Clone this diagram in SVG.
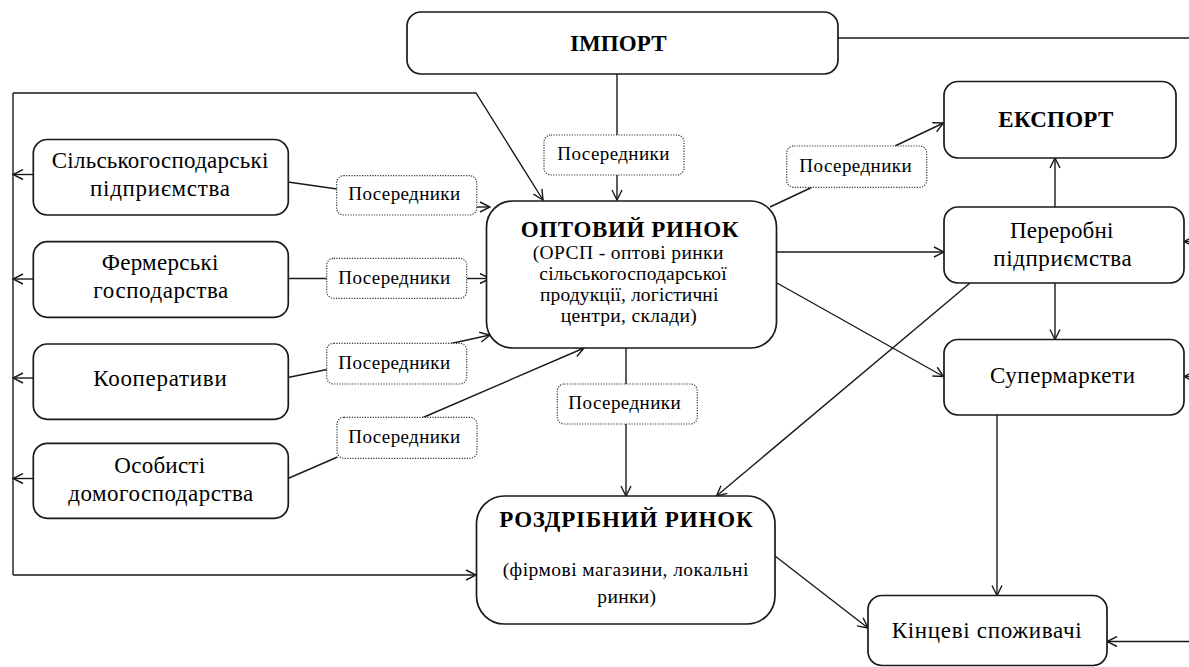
<svg xmlns="http://www.w3.org/2000/svg" width="1189" height="667" viewBox="0 0 1189 667">
<defs>
<style>
.box{fill:#fff;stroke:#1a1a1a;stroke-width:1.7}
.mid{fill:#fff;stroke:#333;stroke-width:1.2;stroke-dasharray:1.2 1.4}
.ln{fill:none;stroke:#1a1a1a;stroke-width:1.4}
.ar{marker-end:url(#arr)}
text{fill:#000;text-anchor:middle}
.t{font-size:23px}
.s{font-size:19.5px}
.m{font-size:19px}
.b{font-size:23px;font-weight:bold}
</style>
<marker id="arr" viewBox="0 0 12 12" refX="11" refY="6" markerWidth="12" markerHeight="12" markerUnits="userSpaceOnUse" orient="auto">
<path d="M1,1 L11,6 L1,11" fill="none" stroke="#1a1a1a" stroke-width="1.4"/>
</marker>
</defs>
<rect width="1189" height="667" fill="#fff"/>

<g id="connectors">
<path class="ln" d="M838,38 H1189"/>
<path class="ln" d="M617,74 V135"/>
<path class="ln ar" d="M617,175 V200"/>
<path class="ln ar" d="M13,93 H476 L543,200"/>
<path class="ln" d="M13,93 V575"/>
<path class="ln ar" d="M13,575 H476"/>
<path class="ln ar" d="M33,174.5 H13"/>
<path class="ln ar" d="M33,279 H13"/>
<path class="ln ar" d="M33,378 H13"/>
<path class="ln ar" d="M33,478.5 H13"/>
<path class="ln" d="M288,182 L337,189"/>
<path class="ln ar" d="M477,207 H490"/>
<path class="ln" d="M288,278.5 H327"/>
<path class="ln ar" d="M467,278.5 H490"/>
<path class="ln" d="M288,377.5 L327,369.5"/>
<path class="ln ar" d="M451,343.5 L490,335"/>
<path class="ln" d="M288,478.5 L337.5,457"/>
<path class="ln ar" d="M423,417.5 L584,348"/>
<path class="ln" d="M770,207 L811.5,187.5"/>
<path class="ln ar" d="M895,146 L943.5,123"/>
<path class="ln ar" d="M777,252 H944"/>
<path class="ln ar" d="M1055,207 V158"/>
<path class="ln ar" d="M1055,283 V339.5"/>
<path class="ln ar" d="M970,283 L716.5,496"/>
<path class="ln ar" d="M777,283 L943.5,376.5"/>
<path class="ln ar" d="M997,414.5 V595.5"/>
<path class="ln" d="M626,348 V384"/>
<path class="ln ar" d="M626,424 V496"/>
<path class="ln ar" d="M775,556 L868,628"/>
<path class="ln ar" d="M1189,641.5 H1107"/>
<path class="ln ar" d="M1196,241.5 H1184"/>
<path class="ln ar" d="M1196,376.5 H1184"/>
</g>

<g font-family="'Liberation Serif', 'DejaVu Serif', serif">
<g id="import">
<rect class="box" x="407" y="12" width="431" height="62" rx="14"/>
<text class="b" x="618.3" y="51" textLength="96.7">ІМПОРТ</text>
</g>
<g id="export">
<rect class="box" x="944" y="81.5" width="232" height="76.5" rx="14"/>
<text class="b" x="1055.8" y="127" textLength="115">ЕКСПОРТ</text>
</g>
<g id="wholesale">
<rect class="box" x="486.5" y="201" width="290" height="147" rx="26"/>
<text class="b" x="629.5" y="237" textLength="217.7">ОПТОВИЙ РИНОК</text>
<text class="s" x="628" y="259.3" textLength="190.7">(ОРСП - оптові ринки</text>
<text class="s" x="633" y="280" textLength="187.3">сільськогосподарської</text>
<text class="s" x="629.2" y="300.7" textLength="178.3">продукції, логістичні</text>
<text class="s" x="628.7" y="321.7" textLength="136">центри, склади)</text>
</g>
<g id="retail">
<rect class="box" x="476.5" y="496" width="298.5" height="128" rx="28"/>
<text class="b" x="626" y="527" textLength="253.3">РОЗДРІБНИЙ РИНОК</text>
<text class="s" x="625.5" y="576" textLength="245.7">(фірмові магазини, локальні</text>
<text class="s" x="626.7" y="603" textLength="58.7">ринки)</text>
</g>
<g id="processing">
<rect class="box" x="944" y="207" width="240" height="76" rx="14"/>
<text class="t" x="1061.7" y="238" textLength="103.3">Переробні</text>
<text class="t" x="1062.5" y="266" textLength="138.3">підприємства</text>
</g>
<g id="supermarkets">
<rect class="box" x="944" y="339.5" width="240" height="75.5" rx="14"/>
<text class="t" x="1062.5" y="382.5" textLength="145">Супермаркети</text>
</g>
<g id="consumers">
<rect class="box" x="868" y="595.5" width="239" height="70" rx="14"/>
<text class="t" x="986.7" y="637.5" textLength="190">Кінцеві споживачі</text>
</g>
<g id="agro">
<rect class="box" x="33.3" y="139.5" width="255" height="75.5" rx="14"/>
<text class="t" x="160" y="168" textLength="216.6">Сільськогосподарські</text>
<text class="t" x="160" y="196" textLength="140">підприємства</text>
</g>
<g id="farms">
<rect class="box" x="33.3" y="241.7" width="255" height="75.6" rx="14"/>
<text class="t" x="160" y="270" textLength="116.6">Фермерські</text>
<text class="t" x="160.8" y="298" textLength="135">господарства</text>
</g>
<g id="coops">
<rect class="box" x="33.3" y="344" width="255" height="75.3" rx="14"/>
<text class="t" x="160" y="386" textLength="133.4">Кооперативи</text>
</g>
<g id="households">
<rect class="box" x="33.3" y="443.3" width="255" height="75" rx="14"/>
<text class="t" x="159.7" y="473" textLength="90.7">Особисті</text>
<text class="t" x="160.8" y="501" textLength="185">домогосподарства</text>
</g>
<g id="mid-import">
<rect class="mid" x="544" y="135" width="140" height="40" rx="7"/>
<text class="m" x="613.3" y="160" textLength="112">Посередники</text>
</g>
<g id="mid-export">
<rect class="mid" x="786.7" y="146" width="140" height="41.3" rx="7"/>
<text class="m" x="855.5" y="171.5" textLength="112.3">Посередники</text>
</g>
<g id="mid-retail">
<rect class="mid" x="557.3" y="384" width="140" height="40" rx="7"/>
<text class="m" x="624.5" y="409" textLength="112.3">Посередники</text>
</g>
<g id="mid-agro">
<rect class="mid" x="336.7" y="175.7" width="140" height="39.3" rx="7"/>
<text class="m" x="404.2" y="200" textLength="111.7">Посередники</text>
</g>
<g id="mid-farms">
<rect class="mid" x="326.7" y="258.3" width="140" height="40" rx="7"/>
<text class="m" x="394.2" y="283.5" textLength="111.7">Посередники</text>
</g>
<g id="mid-coops">
<rect class="mid" x="326.7" y="343.3" width="140" height="40.7" rx="7"/>
<text class="m" x="394.2" y="368.5" textLength="111.7">Посередники</text>
</g>
<g id="mid-households">
<rect class="mid" x="337" y="417.3" width="140" height="41" rx="7"/>
<text class="m" x="404.2" y="443" textLength="111.7">Посередники</text>
</g>
</g>
</svg>
